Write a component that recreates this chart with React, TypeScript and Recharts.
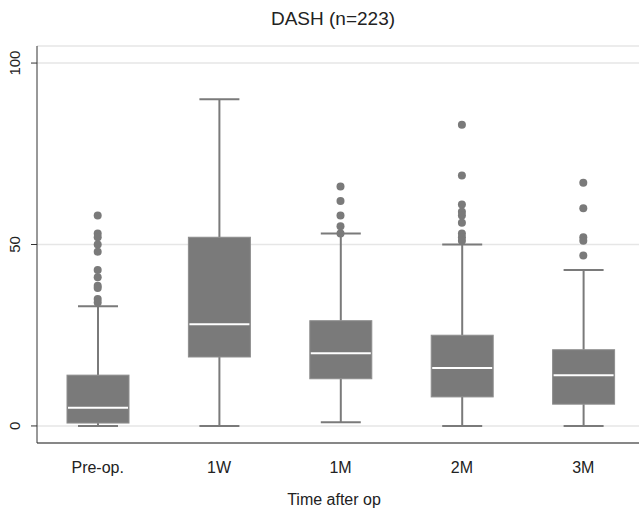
import { ComposedChart, Bar, Line, XAxis, YAxis, CartesianGrid } from 'recharts';

const categories = ['Pre-op.', '1W', '1M', '2M', '3M'];
const lowWhisker = [0, 0, 1, 0, 0];
const q1 = [0.8, 19, 13, 8, 6];
const median = [5, 28, 20, 16, 14];
const q3 = [14, 52, 29, 25, 21];
const highWhisker = [33, 90, 53, 50, 43];
const outliers = [
  [58, 53, 52, 50, 48, 43, 41, 38.6, 38, 35, 34],
  [],
  [66, 62, 58, 55, 53],
  [83, 69, 61, 59, 58, 56, 53, 52, 51],
  [67, 60, 52, 51, 47],
];
const yTicks = [0, 50, 100];

const GREY = '#7a7a7a';
const FONT = '"Liberation Sans", Arial, sans-serif';
const maxOut = Math.max(...outliers.map((o) => o.length));

const data = categories.map((name, i) => {
  const row: Record<string, any> = {
    name,
    range: [lowWhisker[i], highWhisker[i]],
    lo: lowWhisker[i],
    q1: q1[i],
    med: median[i],
    q3: q3[i],
    hi: highWhisker[i],
  };
  for (let k = 0; k < maxOut; k++) row[`o${k}`] = outliers[i][k] ?? null;
  return row;
});

// box + whiskers, positioned from the bar's own scaled extent
function BoxShape(props: any) {
  const { x, y, width, height, payload } = props;
  const top = Math.min(y, y + height);
  const h = Math.abs(height);
  const ppu = h / (payload.hi - payload.lo);
  const yOf = (v: number) => top + (payload.hi - v) * ppu;
  const cx = x + width / 2;
  const capW = 40;
  return (
    <g>
      <line x1={cx} x2={cx} y1={yOf(payload.hi)} y2={yOf(payload.q3)} stroke={GREY} strokeWidth={2} />
      <line x1={cx} x2={cx} y1={yOf(payload.q1)} y2={yOf(payload.lo)} stroke={GREY} strokeWidth={2} />
      <line x1={cx - capW / 2} x2={cx + capW / 2} y1={yOf(payload.hi)} y2={yOf(payload.hi)} stroke={GREY} strokeWidth={2} />
      <line x1={cx - capW / 2} x2={cx + capW / 2} y1={yOf(payload.lo)} y2={yOf(payload.lo)} stroke={GREY} strokeWidth={2} />
      <rect
        x={x}
        y={yOf(payload.q3)}
        width={width}
        height={yOf(payload.q1) - yOf(payload.q3)}
        fill={GREY}
        stroke="#8e8e8e"
        strokeWidth={1}
      />
      <line x1={x + 1} x2={x + width - 1} y1={yOf(payload.med)} y2={yOf(payload.med)} stroke="#ffffff" strokeWidth={2} />
    </g>
  );
}

function YTick(props: any) {
  const { x, y, payload } = props;
  return (
    <g transform={`translate(${x - 14},${y}) rotate(-90)`}>
      <text textAnchor="middle" dy="0.35em" fontSize={15} fill="#222" fontFamily={FONT}>
        {payload.value}
      </text>
    </g>
  );
}

export default function App() {
  return (
    <div
      style={{
        position: 'absolute',
        left: 0,
        top: 0,
        width: 639,
        height: 509,
        overflow: 'hidden',
        background: '#fff',
        fontFamily: FONT,
      }}
    >
      <div
        style={{
          position: 'absolute',
          top: 8,
          left: 0,
          width: 666,
          textAlign: 'center',
          fontSize: 19,
          color: '#222',
        }}
      >
        DASH (n=223)
      </div>
      <ComposedChart
        width={645}
        height={509}
        data={data}
        margin={{ top: 46, right: 1, bottom: 36, left: 7 }}
      >
        <CartesianGrid vertical={false} stroke="#e6e6e6" strokeWidth={1.5} />
        <XAxis
          dataKey="name"
          tickLine={false}
          tickSize={0}
          tickMargin={19}
          height={30}
          axisLine={{ stroke: '#222' }}
          tick={{ fontSize: 16, fill: '#222', fontFamily: FONT }}
        />
        <XAxis
          xAxisId="top"
          dataKey="name"
          orientation="top"
          height={0}
          tick={false}
          tickLine={false}
          axisLine={{ stroke: '#555' }}
        />
        <YAxis
          domain={[-4.7, 104.7]}
          ticks={yTicks}
          width={30}
          tickSize={6}
          axisLine={{ stroke: '#333' }}
          tickLine={{ stroke: '#333' }}
          tick={<YTick />}
          allowDataOverflow
        />
        <Bar dataKey="range" barSize={62} shape={<BoxShape />} isAnimationActive={false} />
        {Array.from({ length: maxOut }, (_, k) => (
          <Line
            key={k}
            dataKey={`o${k}`}
            stroke="none"
            dot={{ r: 4, fill: GREY, stroke: 'none' }}
            activeDot={false}
            isAnimationActive={false}
            legendType="none"
          />
        ))}
      </ComposedChart>
      <div
        style={{
          position: 'absolute',
          top: 491,
          left: 0,
          width: 668,
          textAlign: 'center',
          fontSize: 16,
          color: '#222',
        }}
      >
        Time after op
      </div>
    </div>
  );
}
